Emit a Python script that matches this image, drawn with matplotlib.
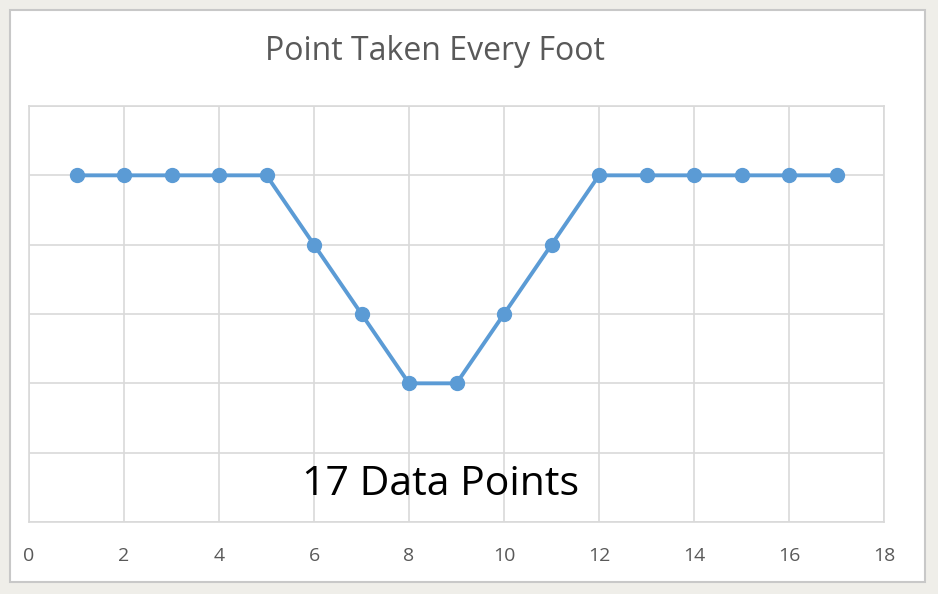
import matplotlib
matplotlib.use("Agg")
import matplotlib.pyplot as plt
from matplotlib.patches import Rectangle

# data
feet = [1, 2, 3, 4, 5, 6, 7, 8, 9, 10, 11, 12, 13, 14, 15, 16, 17]
depth = [5, 5, 5, 5, 5, 4, 3, 2, 2, 3, 4, 5, 5, 5, 5, 5, 5]
x_ticks = [0, 2, 4, 6, 8, 10, 12, 14, 16, 18]
y_levels = [0, 1, 2, 3, 4, 5, 6]

W, H = 938, 594
fig = plt.figure(figsize=(W / 100, H / 100), dpi=100, facecolor="#efeee9")

# chart frame like an Excel chart object
fig.patches.append(Rectangle((10 / W, 1 - 582 / H), 915 / W, 572 / H,
                             transform=fig.transFigure, facecolor="white",
                             edgecolor="#c8c8c8", linewidth=1.5, zorder=-5))

ax = fig.add_axes([29 / W, 1 - 522 / H, 855 / W, 416 / H])
ax.set_zorder(2)
ax.set_facecolor("white")
ax.plot(feet, depth, color="#5b9bd5", linewidth=2.8, marker="o",
        markersize=10, zorder=3, clip_on=False)

ax.set_xlim(0, 18)
ax.set_ylim(0, 6)
ax.set_xticks(x_ticks)
ax.set_yticks(y_levels)
ax.set_yticklabels([])
ax.grid(True, color="#d9d9d9", linewidth=1.2)
ax.set_axisbelow(True)
for s in ax.spines.values():
    s.set_color("#d9d9d9")
    s.set_linewidth(1.2)
ax.tick_params(length=0, labelsize=14, labelcolor="#595959", pad=18)
for lab in ax.get_xticklabels():
    lab.set_family("Open Sans")

fig.text(435 / W, 1 - 51 / H, "Point Taken Every Foot", ha="center", va="center",
         fontsize=23, color="#595959", family="Open Sans")
fig.text(441 / W, 1 - 485 / H, "17 Data Points", ha="center", va="center",
         fontsize=29.5, color="black", family="Open Sans", zorder=5)

fig.savefig("out.png", dpi=100, facecolor=fig.get_facecolor())
